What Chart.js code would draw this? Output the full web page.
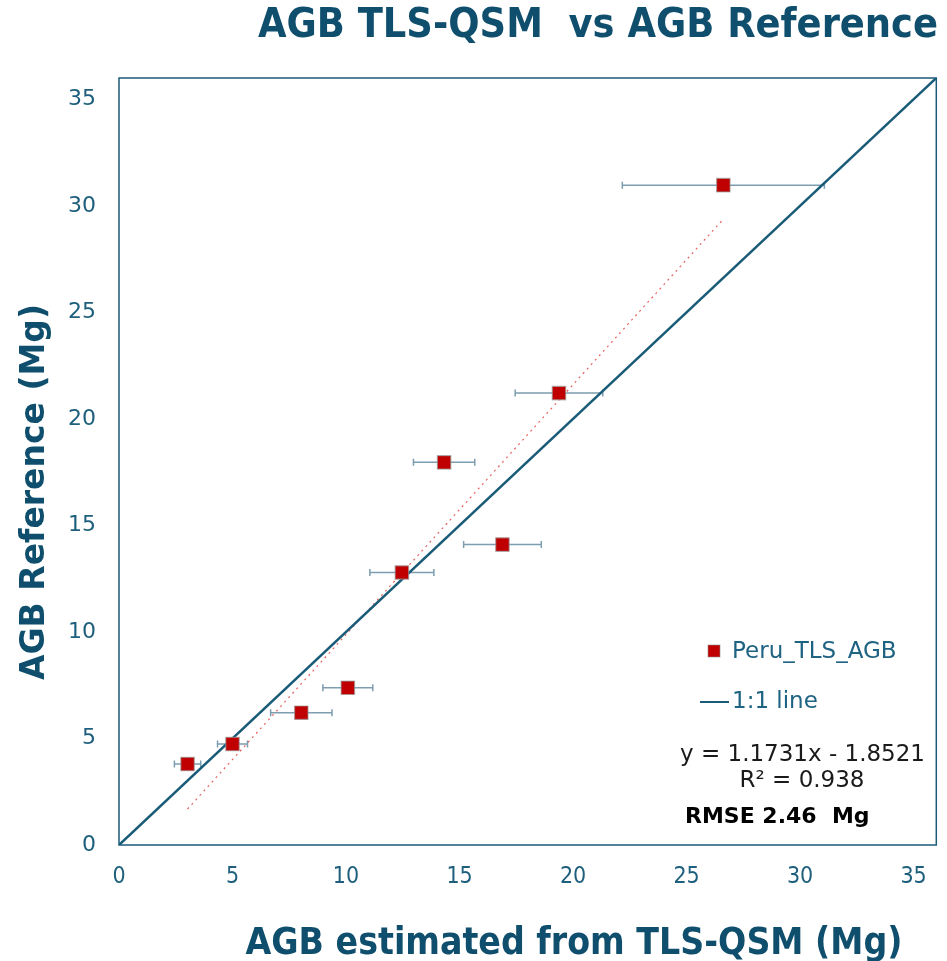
<!DOCTYPE html>
<html><head><meta charset="utf-8">
<script src="https://cdn.jsdelivr.net/npm/chart.js@4/dist/chart.umd.min.js"></script>
<style>html,body{margin:0;padding:0;background:#fff}#wrap{width:947px;height:961px;position:relative}canvas{display:block}</style>
</head><body><div id="wrap"><canvas id="c" width="947" height="961" style="width:947px;height:961px"></canvas></div>
<script>
// ---- data ----
const agbTLS   = [3.02, 5.00, 8.03, 10.08, 12.46, 14.32, 16.89, 19.38, 26.62];   // x (Mg)
const agbRef   = [3.80, 4.74, 6.21, 7.38, 12.79, 17.96, 14.10, 21.21, 30.97];   // y (Mg)
const tlsError = [0.58, 0.66, 1.35, 1.10, 1.41, 1.35, 1.71, 1.93, 4.45];        // ± x error
const oneToOneX = [0, 36];
const oneToOneY = [0, 36];
const trendSlope = 1.1731;
const trendIntercept = -1.8521;
const axisTicks = [0, 5, 10, 15, 20, 25, 30, 35];
const axisMin = 0, axisMax = 36;
const chartTitle = 'AGB TLS-QSM  vs AGB Reference';
const xTitle = 'AGB estimated from TLS-QSM (Mg)';
const yTitle = 'AGB Reference (Mg)';
const seriesName = 'Peru_TLS_AGB';
const lineName = '1:1 line';
const eqText = 'y = 1.1731x - 1.8521';
const r2Text = 'R² = 0.938';
const rmseText = 'RMSE 2.46  Mg';

const TEAL = '#0f4f6d';
const TICK = '#1d5f7c';
const LINE = '#1a5b78';
const RED = '#c00000';

const xMinData = Math.min(...agbTLS), xMaxData = Math.max(...agbTLS);
const trendX = [xMinData, xMaxData];
const trendY = trendX.map(v => trendSlope * v + trendIntercept);

const points = agbTLS.map((x, i) => ({x, y: agbRef[i]}));
const oneToOne = oneToOneX.map((x, i) => ({x, y: oneToOneY[i]}));
const trend = trendX.map((x, i) => ({x, y: trendY[i]}));

const overlay = {
  id: 'overlay',
  beforeDatasetsDraw(chart) {
    const ctx = chart.ctx, xs = chart.scales.x, ys = chart.scales.y;
    ctx.save();
    ctx.strokeStyle = '#7d9db0';
    ctx.lineWidth = 1.5;
    agbTLS.forEach((x, i) => {
      const y = ys.getPixelForValue(agbRef[i]);
      const x1 = xs.getPixelForValue(x - tlsError[i]);
      const x2 = xs.getPixelForValue(x + tlsError[i]);
      ctx.beginPath();
      ctx.moveTo(x1, y); ctx.lineTo(x2, y);
      ctx.moveTo(x1, y - 3.5); ctx.lineTo(x1, y + 3.5);
      ctx.moveTo(x2, y - 3.5); ctx.lineTo(x2, y + 3.5);
      ctx.stroke();
    });
    ctx.restore();
  },
  afterDraw(chart) {
    const ctx = chart.ctx, a = chart.chartArea;
    ctx.save();
    // plot frame
    ctx.strokeStyle = LINE; ctx.lineWidth = 1.5;
    ctx.strokeRect(a.left, a.top, a.right - a.left, a.bottom - a.top);
    // axis titles
    ctx.fillStyle = TEAL;
    ctx.font = 'bold 37px "DejaVu Sans Condensed", "DejaVu Sans"';
    ctx.textAlign = 'center'; ctx.textBaseline = 'middle';
    ctx.fillText(xTitle, 574, 944);
    ctx.save();
    ctx.translate(35, 492);
    ctx.rotate(-Math.PI / 2);
    ctx.font = 'bold 33px "DejaVu Sans"';
    ctx.fillText(yTitle, 0, 0);
    ctx.restore();
    // legend
    ctx.fillStyle = RED;
    ctx.strokeStyle = 'rgba(140,140,140,0.6)'; ctx.lineWidth = 1;
    ctx.fillRect(708, 645, 12, 12);
    ctx.strokeRect(708, 645, 12, 12);
    ctx.fillStyle = '#1f6383';
    ctx.font = '23px "DejaVu Sans"';
    ctx.textAlign = 'left';
    ctx.fillText(seriesName, 732, 652);
    ctx.strokeStyle = LINE; ctx.lineWidth = 2;
    ctx.beginPath(); ctx.moveTo(700, 702); ctx.lineTo(729, 702); ctx.stroke();
    ctx.fillText(lineName, 732, 702);
    // equation
    ctx.fillStyle = '#1a1a1a';
    ctx.font = '23px "DejaVu Sans"';
    ctx.fillText(eqText, 680, 755);
    ctx.textAlign = 'center';
    ctx.fillText(r2Text, 802, 781);
    ctx.textAlign = 'left';
    ctx.font = 'bold 22px "DejaVu Sans"';
    ctx.fillStyle = '#000';
    ctx.fillText(rmseText, 685, 817);
    ctx.restore();
  }
};

new Chart(document.getElementById('c'), {
  type: 'scatter',
  data: {
    datasets: [
      {
        label: seriesName, data: points, order: 0,
        pointStyle: 'rect', pointRadius: 9.5, pointHoverRadius: 9.5,
        backgroundColor: RED, borderColor: 'rgba(150,150,150,0.65)', borderWidth: 1.2
      },
      {
        label: lineName, data: oneToOne, type: 'line', order: 1,
        borderColor: LINE, borderWidth: 2.5, pointRadius: 0, fill: false
      },
      {
        label: 'Linear (Peru_TLS_AGB)', data: trend, type: 'line', order: 2,
        borderColor: 'rgba(228,80,80,0.9)', borderWidth: 1.2, borderDash: [2, 4],
        pointRadius: 0, fill: false
      }
    ]
  },
  options: {
    responsive: false, maintainAspectRatio: false, animation: false, devicePixelRatio: 1,
    layout: { padding: { left: 0, right: 9, top: 0, bottom: 0 } },
    plugins: {
      legend: { display: false },
      tooltip: { enabled: false },
      title: {
        display: true, text: chartTitle, align: 'end', color: TEAL,
        font: { family: '"DejaVu Sans Condensed", "DejaVu Sans"', size: 41, weight: 'bold' },
        padding: { top: 2, bottom: 26.8 }
      }
    },
    scales: {
      x: {
        type: 'linear', min: axisMin, max: axisMax,
        grid: { display: false, drawTicks: false },
        border: { display: false },
        afterBuildTicks: s => { s.ticks = axisTicks.map(v => ({ value: v })); },
        afterFit: s => { s.height = 116; },
        ticks: { padding: 18, color: TICK, font: { family: '"DejaVu Sans Condensed", "DejaVu Sans"', size: 23 }, maxRotation: 0 }
      },
      y: {
        type: 'linear', min: axisMin, max: axisMax,
        grid: { display: false, drawTicks: false },
        border: { display: false },
        afterBuildTicks: s => { s.ticks = axisTicks.map(v => ({ value: v })); },
        afterFit: s => { s.width = 119; },
        ticks: { padding: 23, color: TICK, font: { family: '"DejaVu Sans"', size: 22 } }
      }
    }
  },
  plugins: [overlay]
});
</script></body></html>
